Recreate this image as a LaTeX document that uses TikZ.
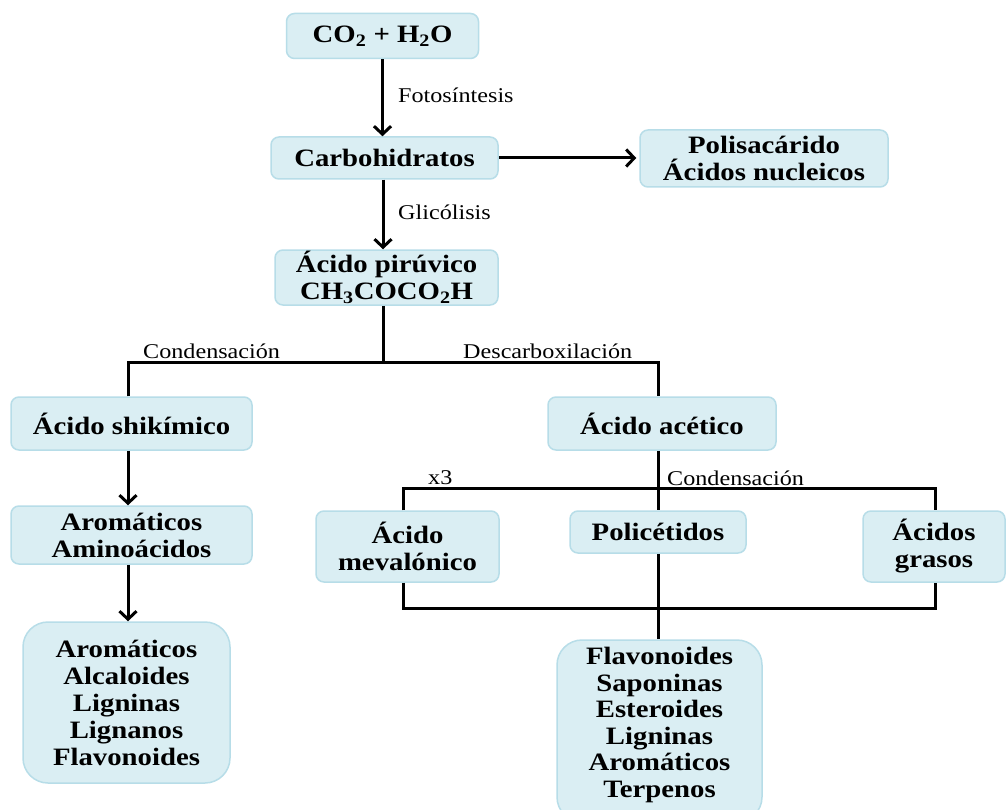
\documentclass[tikz,border=0pt]{standalone}
\usepackage{fontspec}
\setmainfont{Liberation Serif}[FakeStretch=1.15]
\usetikzlibrary{arrows.meta}
\definecolor{boxfill}{HTML}{DAEEF3}
\definecolor{boxline}{HTML}{B7DDE8}
\begin{document}
\begin{tikzpicture}[x=1pt,y=-1pt,
  box/.style={draw=boxline, fill=boxfill, line width=1.5pt, rounded corners=8pt,
    align=center, font=\fontsize{25}{27}\selectfont\bfseries, inner sep=0pt},
  bigbox/.style={box, rounded corners=25pt},
  lbl/.style={font=\fontsize{21}{24}\selectfont, inner sep=0pt, anchor=base west},
  conn/.style={line width=3pt},
  arr/.style={conn, -{Straight Barb[length=8pt,width=17pt,line width=3pt]}}]
\clip (0,0) rectangle (1008,810);
\fill[white] (0,0) rectangle (1008,810);

% boxes
\node[box, minimum width=192pt, minimum height=45pt] (co2) at (382.5,36) {CO\textsubscript{2} + H\textsubscript{2}O};
\node[box, minimum width=227pt, minimum height=42pt] (carb) at (384.5,158) {Carbohidratos};
\node[box, minimum width=248pt, minimum height=57pt] (poli) at (764,158.5) {Polisacárido\\Ácidos nucleicos};
\node[box, minimum width=223pt, minimum height=55pt] (piru) at (386.5,277.5) {Ácido pirúvico\\CH\textsubscript{3}COCO\textsubscript{2}H};
\node[box, minimum width=241pt, minimum height=53pt] (shik) at (131.5,423.5) {Ácido shikímico};
\node[box, minimum width=228pt, minimum height=53pt] (acet) at (662,423.5) {Ácido acético};
\node[box, minimum width=241pt, minimum height=58pt] (arom) at (131.5,535) {Aromáticos\\Aminoácidos};
\node[bigbox, minimum width=207pt, minimum height=161pt] (left) at (126.5,702.5) {Aromáticos\\Alcaloides\\Ligninas\\Lignanos\\Flavonoides};
\node[box, minimum width=183pt, minimum height=71pt] (mev) at (407.5,546.5) {Ácido\\mevalónico};
\node[box, minimum width=176pt, minimum height=42pt] (polic) at (658,532) {Policétidos};
\node[box, minimum width=142pt, minimum height=71pt] (gras) at (934,546.5) {Ácidos\\grasos};
\node[bigbox, minimum width=205pt, minimum height=182pt, font=\fontsize{25}{26.6}\selectfont\bfseries] (right) at (659.5,731) {};
\node[font=\fontsize{25}{26.6}\selectfont\bfseries, align=center, inner sep=0pt, anchor=north] (righttext) at (659.5,647) {Flavonoides\\Saponinas\\Esteroides\\Ligninas\\Aromáticos\\Terpenos};

% junction points
\coordinate (s1) at (383,362);
\coordinate (sL) at (128,362);
\coordinate (sR) at (658,362);
\coordinate (mL) at (403,488);
\coordinate (mC) at (658,488);
\coordinate (mR) at (935,488);
\coordinate (bL) at (403,608);
\coordinate (bR) at (935,608);

% connectors
\draw[arr] (co2.south) -- (co2.south |- carb.north);
\draw[arr, shorten >=3pt] (carb.east) -- (carb.east -| poli.west);
\draw[arr] (s1 |- carb.south) -- (s1 |- piru.north);
\draw[conn] (s1 |- piru.south) -- (s1);
\draw[conn] (sL |- shik.north) -- (sL) -- (sR) -- (sR |- acet.north);
\draw[arr] (sL |- shik.south) -- (sL |- arom.north);
\draw[arr] (sL |- arom.south) -- (sL |- left.north);
\draw[conn] (mC |- acet.south) -- (mC |- polic.north);
\draw[conn] (mL |- mev.north) -- (mL) -- (mR) -- (mR |- gras.north);
\draw[conn] (mL |- mev.south) -- (bL) -- (bR) -- (mR |- gras.south);
\draw[conn] (mC |- polic.south) -- (mC |- right.north);

% labels
\node[lbl] (lfoto) at (398,103) {Fotosíntesis};
\node[lbl] (lglic) at (398,219) {Glicólisis};
\node[lbl] (lcond1) at (143,358) {Condensación};
\node[lbl] (ldesc) at (463,358) {Descarboxilación};
\node[lbl] (lx3) at (428,484) {x3};
\node[lbl] (lcond2) at (667,485) {Condensación};
\end{tikzpicture}
\end{document}
